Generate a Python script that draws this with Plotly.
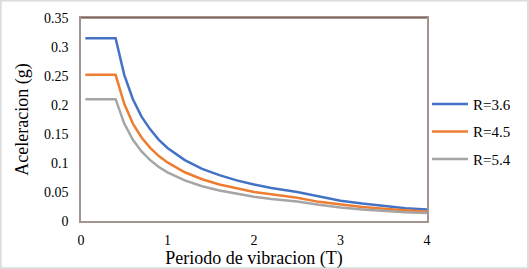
import plotly.graph_objects as go

periodo = [0.05, 0.4, 0.5, 0.6, 0.7, 0.8, 0.9, 1.0, 1.2, 1.4, 1.6, 1.8, 2.0, 2.2, 2.5, 2.75, 3.0, 3.25, 3.5, 3.75, 4.0]
r36 = [0.315, 0.315, 0.252, 0.21, 0.18, 0.158, 0.14, 0.126, 0.105, 0.09, 0.079, 0.07, 0.063, 0.057, 0.05, 0.042, 0.035, 0.03, 0.026, 0.022, 0.02]
r45 = [0.252, 0.252, 0.202, 0.168, 0.144, 0.126, 0.112, 0.101, 0.084, 0.072, 0.063, 0.056, 0.05, 0.046, 0.04, 0.033, 0.028, 0.024, 0.021, 0.018, 0.016]
r54 = [0.21, 0.21, 0.168, 0.14, 0.12, 0.105, 0.093, 0.084, 0.07, 0.06, 0.0525, 0.0467, 0.042, 0.038, 0.0336, 0.028, 0.0233, 0.02, 0.017, 0.015, 0.014]
series_names = ["R=3.6", "R=4.5", "R=5.4"]
colors = ["#4472C4", "#ED7D31", "#A5A5A5"]
x_ticks = [0, 1, 2, 3, 4]
y_ticks = [0, 0.05, 0.1, 0.15, 0.2, 0.25, 0.3, 0.35]
y_labels = ["0", "0.05", "0.1", "0.15", "0.2", "0.25", "0.3", "0.35"]

fig = go.Figure()
for name, ys, c in zip(series_names, [r36, r45, r54], colors):
    fig.add_trace(go.Scatter(x=periodo, y=ys, mode="lines", name=name, legendgroup=name,
                             line=dict(color=c, width=2.5)))

font = "Liberation Serif"
fig.update_layout(
    width=529, height=269,
    margin=dict(l=81, r=102, t=18, b=48, autoexpand=False),
    paper_bgcolor="white", plot_bgcolor="white",
    font=dict(family=font, size=14, color="#000000"),
    showlegend=True,
    legend=dict(x=1.0, y=0.44, xanchor="left", yanchor="middle",
                font=dict(family=font, size=15, color="#000"),
                tracegroupgap=5, itemwidth=36, bgcolor="rgba(0,0,0,0)"),
    xaxis=dict(range=[0, 4], tickvals=x_ticks, showgrid=False, zeroline=False, automargin=False,
               showline=True, linecolor="#a39490", linewidth=1.5, mirror=True,
               ticks="", tickfont=dict(family=font, size=14), ticklabelstandoff=5,
               title=dict(text="Periodo de vibracion (T)", font=dict(family=font, size=18), standoff=11)),
    yaxis=dict(range=[0, 0.35], tickvals=y_ticks, ticktext=y_labels, showgrid=False, zeroline=False,
               automargin=False,
               showline=True, linecolor="#a39490", linewidth=1.5, mirror=True,
               ticks="", tickfont=dict(family=font, size=14), ticklabelstandoff=8,
               title=dict(text="Aceleracion (g)", font=dict(family=font, size=18), standoff=11)),
    shapes=[
        dict(type="line", xref="paper", yref="paper", x0=0, x1=1, y0=1, y1=1,
             line=dict(color="#5a3528", width=1.2)),
        dict(type="rect", xref="paper", yref="paper", x0=-0.232, x1=1.292, y0=-0.233, y1=1.086,
             line=dict(color="#dcdcdc", width=2), layer="below"),
    ],
)
fig.write_html("out.html", config={"displayModeBar": False},
               post_script="document.body.style.margin='0';document.body.style.padding='0';")
